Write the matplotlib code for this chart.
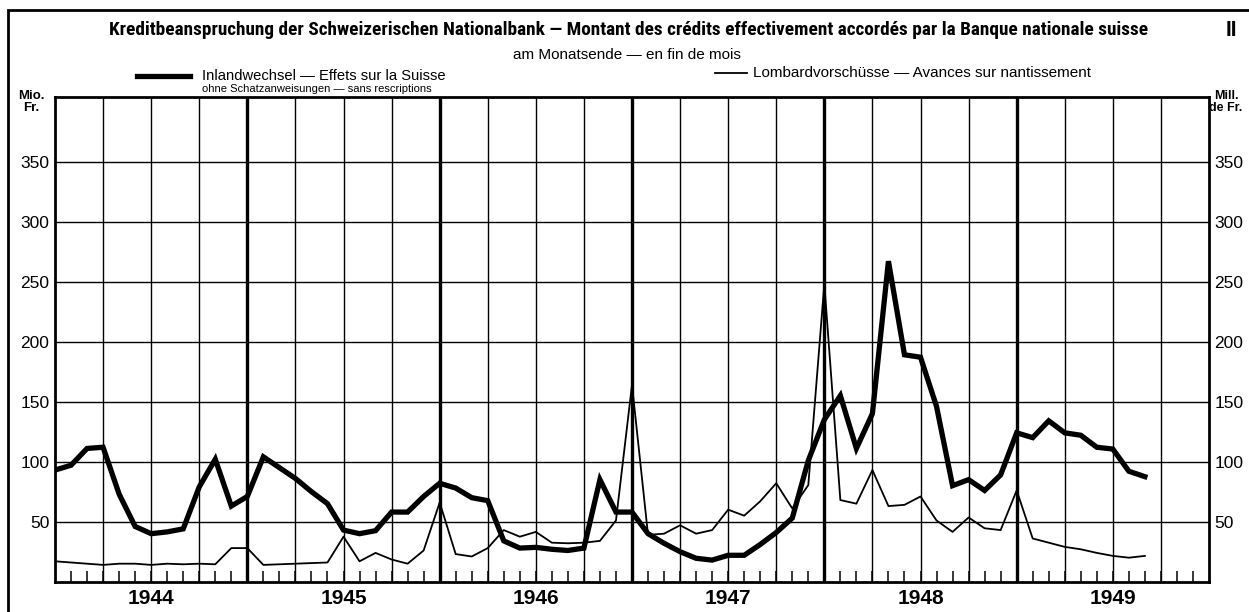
import numpy as np
import matplotlib.pyplot as plt

# month-end values, Dec 1943 .. Aug 1949, Mio. Fr.
inlandwechsel = [93, 97, 111, 112, 73, 46, 40, 41.5, 44, 79, 102, 63,
                 71, 104, 95, 86, 75, 65, 43, 40, 42.5, 58, 58, 71,
                 82, 78, 70, 67.5, 34, 28, 28.6, 27, 26, 28, 85, 58,
                 58, 40, 32, 25, 19.5, 18, 22, 22, 31, 41, 53, 101,
                 135, 155, 111, 140, 267, 189, 187, 146, 80, 85, 76, 89,
                 124, 120, 134, 124, 122, 112, 110.5, 92, 87.5]
lombard = [17, 16, 15, 14, 15, 15, 14, 15, 14.5, 15, 14.5, 28,
           28, 14, 14.5, 15, 15.5, 16, 37.5, 17, 24, 18.5, 15, 26,
           66, 23, 21, 28, 43, 37.5, 41.5, 32.5, 32, 32.5, 34, 51,
           164, 39, 40, 47, 40, 43, 60, 55, 67, 82, 61, 80.5,
           248, 68, 65, 93, 63, 64, 71, 51, 41.5, 53.5, 44.5, 43,
           76, 36, 32.5, 29, 27, 24, 21.5, 20, 21.5]
years = ['1944', '1945', '1946', '1947', '1948', '1949']
y_ticks = [50, 100, 150, 200, 250, 300, 350]

plt.rcParams['font.family'] = ['Liberation Sans', 'DejaVu Sans']
condensed = ['Roboto Condensed', 'DejaVu Sans Condensed', 'Liberation Sans Narrow',
             'Liberation Sans']

months = np.arange(len(inlandwechsel))
n_months = 12 * len(years)

fig = plt.figure(figsize=(12.49, 6.12), dpi=100)
ax = fig.add_axes([55 / 1249, 30.3 / 612, 1154 / 1249, 485 / 612])
ax.set_xlim(0, n_months)
ax.set_ylim(0, 404)

# quarterly grid, heavy lines at the turn of the year
for m in range(3, n_months, 3):
    ax.axvline(m, color='black', lw=2.4 if m % 12 == 0 else 1.0, zorder=1)
for v in y_ticks:
    ax.axhline(v, color='black', lw=1.0, zorder=1)

ax.plot(months, inlandwechsel, color='black', lw=3.8, solid_joinstyle='miter', zorder=3)
ax.plot(months, lombard, color='black', lw=1.3, zorder=3)

for s in ax.spines.values():
    s.set_linewidth(2.0)

ax.set_xticks(np.arange(1, n_months))
ax.tick_params(axis='x', direction='in', length=8, width=1.1, labelbottom=False)
ax.set_yticks(y_ticks)
ax.tick_params(axis='y', length=0, labelsize=12.5, pad=4, right=True, labelright=True)

for i, yr in enumerate(years):
    ax.text(6 + 12 * i, -0.034, yr, transform=ax.get_xaxis_transform(),
            ha='center', va='center', fontsize=15, fontweight='bold')

# unit labels
fig.text(31 / 1249, 1 - 102 / 612, 'Mio.\nFr.', ha='center', va='center',
         fontsize=9.5, fontweight='bold', linespacing=1.0)
fig.text(1226 / 1249, 1 - 102 / 612, 'Mill.\nde Fr.', ha='center', va='center',
         fontsize=9, fontweight='bold', linespacing=1.0)

# title block; the printed title is a condensed face, so fit it to its width
title = fig.text(629 / 1249, 1 - 30 / 612,
                 'Kreditbeanspruchung der Schweizerischen Nationalbank \u2014 '
                 'Montant des crédits effectivement accordés par la Banque nationale suisse',
                 ha='center', va='center', fontsize=13.5, fontweight='bold',
                 family=condensed, fontstretch='condensed')
renderer = fig.canvas.get_renderer()
w = title.get_window_extent(renderer).width
title.set_fontsize(13.5 * 1040 / w)
fig.text(1231 / 1249, 1 - 30 / 612, 'II', ha='center', va='center',
         fontsize=15, fontweight='bold', family=condensed)
fig.text(627 / 1249, 1 - 55 / 612, 'am Monatsende \u2014 en fin de mois',
         ha='center', va='center', fontsize=11)

# legend
fig.add_artist(plt.Line2D([137 / 1249, 190 / 1249], [1 - 76 / 612] * 2,
                          color='black', lw=3.8))
fig.text(202 / 1249, 1 - 76 / 612, 'Inlandwechsel \u2014 Effets sur la Suisse',
         ha='left', va='center', fontsize=10.6)
fig.text(202 / 1249, 1 - 88.5 / 612, 'ohne Schatzanweisungen \u2014 sans rescriptions',
         ha='left', va='center', fontsize=8)
fig.add_artist(plt.Line2D([715 / 1249, 747 / 1249], [1 - 73 / 612] * 2,
                          color='black', lw=1.3))
fig.text(753 / 1249, 1 - 73 / 612, 'Lombardvorschüsse \u2014 Avances sur nantissement',
         ha='left', va='center', fontsize=11)

# outer frame (right and bottom edges run off the sheet)
fig.add_artist(plt.Rectangle((8 / 1249, -0.05), 1.1, 1 - 10 / 612 + 0.05,
                             fill=False, lw=2.0, color='black'))

fig.savefig('out.png', dpi=100)
